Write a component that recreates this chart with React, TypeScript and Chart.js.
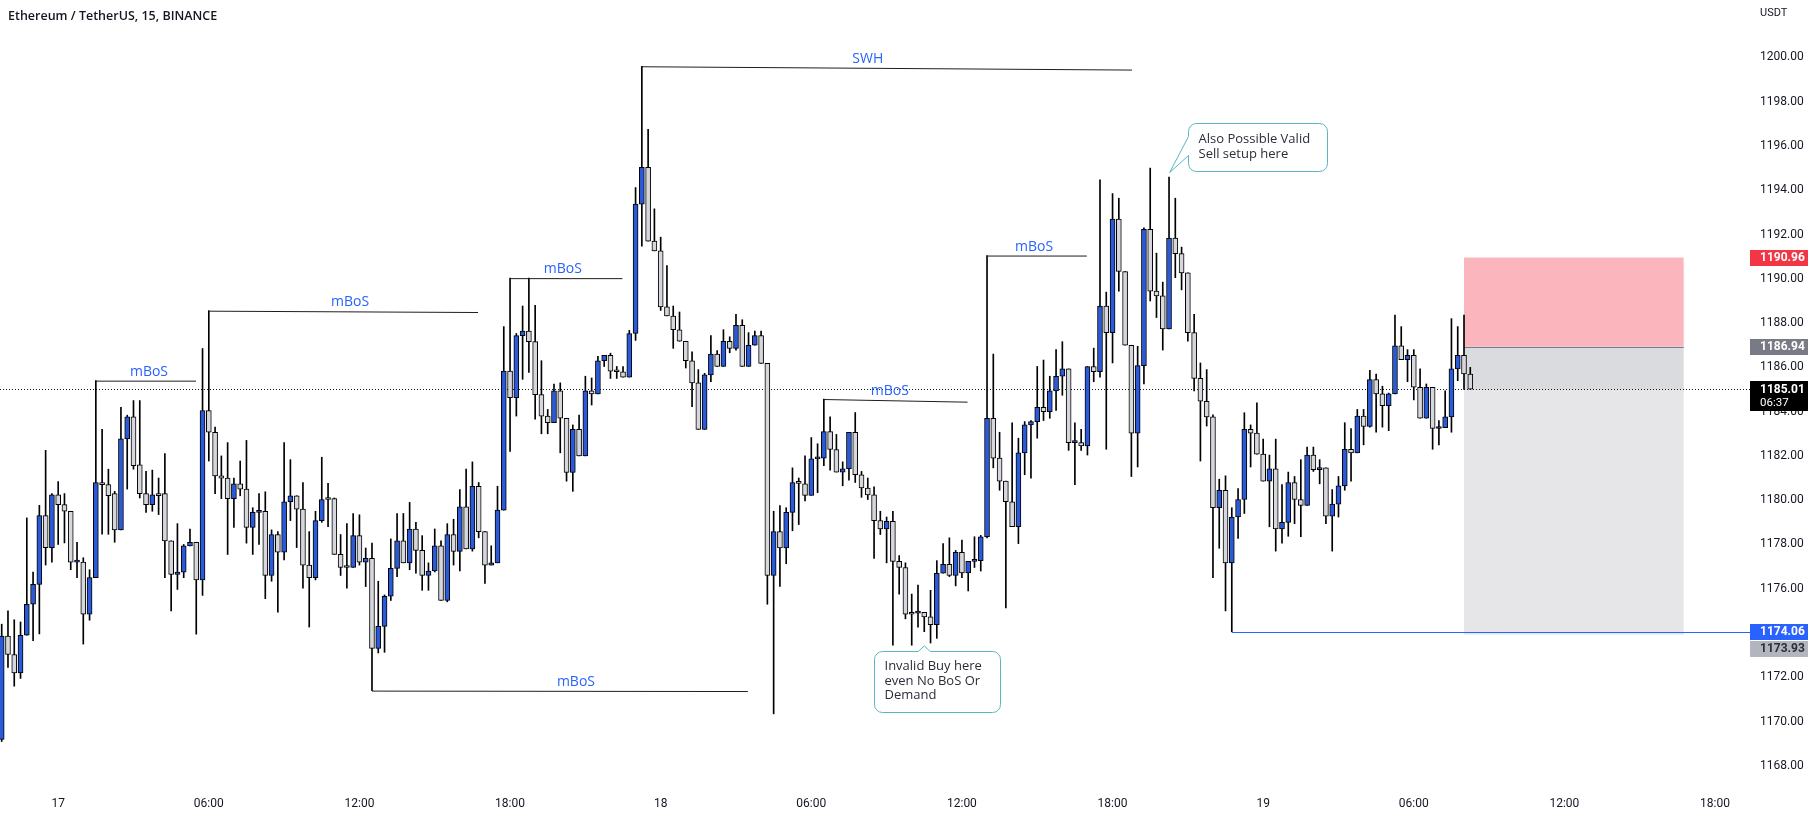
import React, { useEffect, useRef } from 'react';
import { Chart, registerables } from 'chart.js';

Chart.register(...registerables);

// ---- candle data (15 min ETH/USDT, index 0 = 16th 21:45) ----
const OPEN = [
  1169.2, 1173.86, 1173.03, 1172.2, 1173.9, 1175.3, 1176.2, 1179.3, 1177.86, 1180.24,
  1179.8, 1179.5, 1177.2, 1177.2, 1174.85, 1176.5, 1180.8, 1180.7, 1180.3, 1178.66,
  1182.77, 1183.76, 1181.6, 1180.3, 1179.8, 1180.3, 1180.3, 1178.16, 1176.65, 1176.75,
  1177.94, 1178.1, 1176.4, 1184.05, 1183.07, 1181.1, 1181.0, 1180.07, 1180.74, 1180.5,
  1178.77, 1179.45, 1179.5, 1176.6, 1178.45, 1177.65, 1179.93, 1180.2, 1179.6, 1177.07,
  1176.5, 1179.08, 1180.07, 1180.07, 1177.55, 1177.0, 1176.96, 1178.4, 1177.2, 1177.37,
  1173.3, 1174.3, 1175.66, 1176.92, 1178.16, 1177.17, 1178.7, 1177.73, 1176.6, 1176.8,
  1177.94, 1175.47, 1178.45, 1177.69, 1179.7, 1177.8, 1180.63, 1178.58, 1177.07, 1177.17,
  1179.55, 1185.83, 1184.63, 1187.43, 1187.64, 1187.16, 1184.77, 1183.8, 1183.5, 1184.94,
  1183.7, 1181.25, 1183.2, 1182.0, 1184.94, 1184.8, 1186.3, 1186.54, 1185.83, 1185.8,
  1185.56, 1187.53, 1193.37, 1195.03, 1191.7, 1191.26, 1188.73, 1188.32, 1187.7, 1187.18,
  1186.3, 1185.3, 1183.2, 1185.66, 1186.6, 1186.04, 1187.18, 1186.86, 1187.9, 1186.04,
  1187.0, 1187.43, 1186.18, 1176.6, 1178.58, 1177.84, 1179.45, 1180.8, 1180.74, 1180.22,
  1181.87, 1181.9, 1183.1, 1182.29, 1181.27, 1181.42, 1183.07, 1181.15, 1180.55, 1180.24,
  1179.08, 1178.7, 1179.04, 1177.24, 1176.96, 1174.94, 1174.9, 1174.93, 1174.73, 1174.38,
  1176.7, 1177.1, 1176.6, 1177.65, 1176.72, 1177.24, 1177.27, 1178.35, 1183.7, 1181.9,
  1180.86, 1179.93, 1178.8, 1182.14, 1183.4, 1183.55, 1184.2, 1184.0, 1184.94, 1185.6,
  1185.93, 1182.6, 1182.6, 1182.45, 1186.04, 1185.8, 1188.77, 1187.57, 1192.7, 1190.33,
  1187.0, 1183.03, 1186.08, 1192.24, 1189.44, 1189.23, 1187.74, 1191.84, 1191.14, 1190.27,
  1187.57, 1185.5, 1184.47, 1183.76, 1179.66, 1180.45, 1177.17, 1179.24, 1180.03, 1183.2,
  1183.03, 1182.08, 1180.86, 1181.42, 1178.7, 1179.0, 1180.8, 1180.03, 1179.76, 1182.04,
  1181.38, 1181.46, 1179.28, 1179.82, 1180.65, 1182.3, 1182.14, 1183.8, 1183.33, 1185.45,
  1184.8, 1184.27, 1184.8, 1186.97, 1186.35, 1186.54, 1185.1, 1183.7, 1185.1, 1183.24,
  1183.28, 1183.76, 1185.93, 1186.54, 1185.7,
];
const HIGH = [
  1174.4, 1175.0, 1174.6, 1174.5, 1179.2, 1176.75, 1179.77, 1182.25, 1180.3, 1180.84,
  1180.3, 1179.5, 1178.1, 1177.4, 1176.86, 1185.4, 1183.2, 1181.4, 1180.4, 1184.2,
  1183.84, 1184.5, 1184.5, 1181.3, 1181.36, 1181.0, 1182.1, 1178.16, 1178.94, 1178.0,
  1178.7, 1178.1, 1186.85, 1188.56, 1183.3, 1182.0, 1182.6, 1181.0, 1181.77, 1182.7,
  1179.66, 1180.3, 1180.38, 1178.66, 1178.58, 1182.6, 1181.83, 1180.2, 1180.8, 1178.58,
  1179.5, 1181.94, 1180.76, 1180.1, 1178.45, 1178.94, 1179.4, 1179.34, 1177.84, 1178.06,
  1176.34, 1175.72, 1178.25, 1179.4, 1179.4, 1179.9, 1179.0, 1178.4, 1177.17, 1178.7,
  1178.16, 1178.94, 1179.14, 1180.48, 1181.4, 1181.73, 1180.8, 1178.58, 1177.94, 1180.63,
  1187.84, 1190.03, 1187.53, 1188.77, 1190.03, 1188.8, 1186.3, 1184.1, 1185.25, 1185.3,
  1183.7, 1183.4, 1183.84, 1185.6, 1185.52, 1186.5, 1186.54, 1186.64, 1186.04, 1186.04,
  1187.67, 1194.12, 1199.6, 1196.75, 1193.16, 1191.88, 1190.6, 1188.77, 1188.5, 1187.18,
  1186.7, 1185.9, 1185.73, 1187.43, 1186.76, 1187.7, 1187.38, 1188.4, 1188.15, 1187.57,
  1187.64, 1187.64, 1186.18, 1179.5, 1179.76, 1179.66, 1181.46, 1181.0, 1182.0, 1182.83,
  1182.55, 1184.57, 1183.76, 1182.97, 1181.73, 1183.07, 1183.96, 1181.3, 1181.0, 1180.6,
  1179.5, 1179.24, 1179.5, 1177.5, 1177.17, 1175.76, 1176.17, 1174.93, 1175.93, 1177.27,
  1178.04, 1178.3, 1177.73, 1178.2, 1177.24, 1178.35, 1178.41, 1191.05, 1186.6, 1183.07,
  1180.86, 1183.5, 1182.8, 1183.55, 1183.6, 1186.04, 1186.33, 1185.6, 1186.8, 1187.16,
  1185.93, 1183.5, 1183.2, 1186.04, 1186.87, 1194.47, 1189.4, 1193.85, 1193.64, 1190.33,
  1187.0, 1186.95, 1192.3, 1195.0, 1191.16, 1189.85, 1194.6, 1193.64, 1191.43, 1190.27,
  1188.4, 1186.2, 1185.9, 1183.86, 1180.95, 1181.1, 1179.66, 1180.53, 1183.95, 1183.4,
  1184.4, 1182.76, 1182.04, 1182.76, 1180.7, 1181.27, 1181.07, 1181.83, 1182.4, 1182.4,
  1181.83, 1181.46, 1180.48, 1181.07, 1183.5, 1183.24, 1184.1, 1184.1, 1185.87, 1185.7,
  1185.15, 1184.84, 1188.36, 1187.84, 1186.8, 1186.8, 1185.93, 1185.25, 1185.1, 1183.6,
  1184.94, 1188.2, 1187.84, 1188.36, 1186.0,
];
const LOW = [
  1169.1, 1172.45, 1171.6, 1171.95, 1173.9, 1173.65, 1173.96, 1177.07, 1177.2, 1178.0,
  1178.07, 1176.86, 1176.5, 1173.5, 1174.58, 1176.5, 1178.46, 1178.46, 1178.1, 1178.66,
  1180.5, 1181.4, 1180.1, 1179.45, 1179.5, 1179.35, 1176.5, 1175.0, 1175.97, 1176.5,
  1177.94, 1173.95, 1175.7, 1181.77, 1180.3, 1180.07, 1177.55, 1178.77, 1180.2, 1178.06,
  1177.55, 1178.0, 1175.55, 1176.34, 1174.94, 1177.3, 1179.08, 1177.86, 1176.03, 1174.27,
  1176.4, 1179.0, 1178.8, 1177.55, 1176.6, 1176.03, 1176.96, 1177.07, 1176.1, 1171.4,
  1173.1, 1173.13, 1175.47, 1176.55, 1177.17, 1176.86, 1176.7, 1175.93, 1175.93, 1176.76,
  1175.47, 1175.41, 1177.07, 1176.8, 1177.8, 1177.7, 1178.3, 1176.24, 1177.07, 1177.17,
  1179.55, 1182.2, 1183.8, 1185.46, 1185.77, 1183.66, 1183.0, 1183.0, 1183.5, 1182.14,
  1180.86, 1180.4, 1182.0, 1182.0, 1184.3, 1184.8, 1186.04, 1185.5, 1185.5, 1185.56,
  1185.56, 1187.22, 1191.47, 1191.7, 1191.26, 1188.57, 1188.32, 1186.86, 1187.18, 1185.97,
  1184.22, 1183.2, 1183.2, 1185.35, 1186.04, 1186.04, 1186.66, 1186.78, 1186.04, 1186.04,
  1187.0, 1186.18, 1175.3, 1170.35, 1176.1, 1177.13, 1178.62, 1178.9, 1179.97, 1180.22,
  1180.34, 1181.56, 1181.36, 1181.27, 1180.65, 1180.9, 1180.8, 1180.13, 1180.03, 1177.37,
  1178.45, 1177.17, 1173.45, 1175.76, 1174.64, 1173.45, 1174.27, 1174.06, 1173.55, 1173.76,
  1176.7, 1176.55, 1176.13, 1176.5, 1175.9, 1176.96, 1176.8, 1178.3, 1181.46, 1180.45,
  1175.14, 1178.8, 1178.04, 1181.15, 1181.0, 1182.8, 1183.6, 1183.7, 1184.05, 1184.74,
  1182.25, 1180.7, 1182.25, 1182.04, 1185.35, 1185.56, 1182.3, 1186.2, 1189.44, 1187.0,
  1181.07, 1181.5, 1185.25, 1189.0, 1188.25, 1186.78, 1187.74, 1190.05, 1189.5, 1187.18,
  1184.94, 1181.77, 1183.35, 1176.5, 1177.83, 1175.0, 1174.06, 1178.27, 1179.4, 1181.5,
  1182.08, 1180.86, 1178.8, 1177.7, 1178.06, 1178.37, 1178.94, 1178.35, 1179.76, 1181.3,
  1180.74, 1178.94, 1177.7, 1179.24, 1180.45, 1180.86, 1182.14, 1182.5, 1183.3, 1183.07,
  1183.3, 1183.14, 1184.8, 1186.35, 1185.35, 1184.53, 1183.7, 1183.7, 1182.3, 1182.5,
  1183.28, 1183.07, 1185.4, 1185.0, 1185.01,
];
const CLOSE = [
  1173.86, 1173.03, 1172.2, 1173.9, 1175.3, 1176.2, 1179.3, 1177.86, 1180.24, 1179.8,
  1179.5, 1177.2, 1177.2, 1174.85, 1176.5, 1180.8, 1180.7, 1180.2, 1178.66, 1182.77,
  1183.76, 1181.56, 1180.3, 1179.8, 1180.24, 1180.2, 1178.16, 1176.65, 1176.75, 1177.94,
  1178.1, 1176.4, 1184.05, 1183.07, 1181.1, 1181.0, 1180.07, 1180.74, 1180.5, 1178.77,
  1179.45, 1179.5, 1176.6, 1178.45, 1177.65, 1179.93, 1180.2, 1179.6, 1177.07, 1176.5,
  1179.08, 1180.03, 1180.03, 1177.55, 1176.96, 1176.96, 1178.4, 1177.2, 1177.37, 1173.3,
  1174.3, 1175.66, 1176.92, 1178.16, 1177.17, 1178.7, 1177.73, 1176.6, 1176.8, 1177.94,
  1175.47, 1178.45, 1177.69, 1179.7, 1177.8, 1180.63, 1178.58, 1177.07, 1177.17, 1179.55,
  1185.83, 1184.63, 1187.43, 1187.64, 1187.16, 1184.77, 1183.8, 1183.5, 1184.94, 1183.7,
  1181.25, 1183.2, 1182.0, 1184.94, 1184.8, 1186.3, 1186.54, 1185.83, 1185.8, 1185.56,
  1187.53, 1193.37, 1195.03, 1191.7, 1191.26, 1188.73, 1188.32, 1187.7, 1187.18, 1186.3,
  1185.3, 1183.2, 1185.66, 1186.6, 1186.04, 1187.18, 1186.86, 1187.9, 1186.04, 1187.0,
  1187.43, 1186.18, 1176.6, 1178.58, 1177.84, 1179.45, 1180.8, 1180.76, 1180.22, 1181.87,
  1181.9, 1183.1, 1182.29, 1181.27, 1181.42, 1183.07, 1181.15, 1180.55, 1180.24, 1179.08,
  1178.7, 1179.04, 1177.24, 1176.96, 1174.85, 1174.85, 1174.93, 1174.73, 1174.38, 1176.7,
  1177.1, 1176.6, 1177.65, 1176.72, 1177.24, 1177.27, 1178.35, 1183.7, 1181.9, 1180.86,
  1179.93, 1178.8, 1182.14, 1183.4, 1183.55, 1184.2, 1184.0, 1184.94, 1185.6, 1185.93,
  1182.6, 1182.6, 1182.45, 1186.04, 1185.8, 1188.77, 1187.57, 1192.7, 1190.33, 1187.0,
  1183.03, 1186.08, 1192.24, 1189.44, 1189.23, 1187.74, 1191.84, 1191.14, 1190.27, 1187.57,
  1185.5, 1184.47, 1183.76, 1179.66, 1180.45, 1177.17, 1179.24, 1180.03, 1183.2, 1183.03,
  1182.08, 1180.86, 1181.42, 1178.7, 1179.0, 1180.8, 1180.03, 1179.76, 1182.04, 1181.38,
  1181.46, 1179.28, 1179.82, 1180.65, 1182.3, 1182.14, 1183.8, 1183.33, 1185.45, 1184.8,
  1184.27, 1184.8, 1186.97, 1186.35, 1186.54, 1185.1, 1183.7, 1185.1, 1183.24, 1183.28,
  1183.76, 1185.93, 1186.54, 1185.7, 1185.01,
];

// ---- axes ----
const TIME_TICKS = [9, 33, 57, 81, 105, 129, 153, 177, 201, 225, 249, 273];
const TIME_LABELS = ['17', '06:00', '12:00', '18:00', '18', '06:00', '12:00', '18:00', '19', '06:00', '12:00', '18:00'];
const PRICE_TICKS = [1168, 1170, 1172, 1174, 1176, 1178, 1180, 1182, 1184, 1186, 1188, 1190, 1192, 1194, 1196, 1198, 1200];
const X_MIN = -0.271;
const X_MAX = 278.57;
const Y_MIN = 1167.136;
const Y_MAX = 1202.593;

// ---- drawn levels ----
const LEVEL_NAMES = ['mBoS', 'mBoS', 'mBoS', 'mBoS', 'SWH', 'mBoS', 'mBoS'];
const LEVEL_START = [15, 33, 81, 59, 102, 131, 157];
const LEVEL_END = [30.96, 75.9, 98.9, 118.9, 180.1, 153.9, 172.9];
const LEVEL_PRICE_START = [1185.4, 1188.56, 1190.03, 1171.4, 1199.6, 1184.57, 1191.05];
const LEVEL_PRICE_END = [1185.4, 1188.5, 1190.03, 1171.38, 1199.45, 1184.45, 1191.05];
const LEVEL_TEXT_AT = [23.47, 55.5, 89.4, 91.5, 138.0, 141.5, 164.5];

const LOW_LINE_START = 196;
const LOW_LINE_PRICE = 1174.06;
const LAST_PRICE = 1185.01;
const LAST_TIMER = '06:37';

// ---- short position tool ----
const POS_FROM = 233;
const POS_TO = 268;
const POS_STOP = 1190.96;
const POS_ENTRY = 1186.94;
const POS_TARGET = 1173.93;

// ---- callouts ----
const NOTE_A_TEXT = ['Invalid Buy here', 'even No BoS Or', 'Demand'];
const NOTE_A_BOX = [139.0, 1173.19, 159.1, 1170.43]; // x0, p0, x1, p1
const NOTE_A_TIP = [147.0, 1173.42];
const NOTE_B_TEXT = ['Also Possible Valid', 'Sell setup here'];
const NOTE_B_BOX = [189.0, 1197.04, 211.2, 1194.87];
const NOTE_B_TIP = [186.1, 1194.8];

const BULL = '#2b5ad8';
const BEAR = '#d5d7dc';
const TEXT = '#131722';
const FONT = '"Open Sans", Roboto, sans-serif';

function calloutA(ctx: CanvasRenderingContext2D, x0: number, y0: number, x1: number, y1: number, tx: number, ty: number) {
  const r = 8;
  ctx.beginPath();
  ctx.moveTo(x0 + r, y0);
  ctx.lineTo(tx - 6, y0);
  ctx.lineTo(tx, ty);
  ctx.lineTo(tx + 6, y0);
  ctx.lineTo(x1 - r, y0);
  ctx.arcTo(x1, y0, x1, y0 + r, r);
  ctx.lineTo(x1, y1 - r);
  ctx.arcTo(x1, y1, x1 - r, y1, r);
  ctx.lineTo(x0 + r, y1);
  ctx.arcTo(x0, y1, x0, y1 - r, r);
  ctx.lineTo(x0, y0 + r);
  ctx.arcTo(x0, y0, x0 + r, y0, r);
  ctx.closePath();
}

function calloutB(ctx: CanvasRenderingContext2D, x0: number, y0: number, x1: number, y1: number, tx: number, ty: number) {
  const r = 8;
  ctx.beginPath();
  ctx.moveTo(x0 + r, y0);
  ctx.lineTo(x1 - r, y0);
  ctx.arcTo(x1, y0, x1, y0 + r, r);
  ctx.lineTo(x1, y1 - r);
  ctx.arcTo(x1, y1, x1 - r, y1, r);
  ctx.lineTo(x0 + r, y1);
  ctx.arcTo(x0, y1, x0, y1 - r, r);
  ctx.lineTo(x0, y0 + 32);
  ctx.lineTo(tx, ty);
  ctx.lineTo(x0, y0 + 13);
  ctx.lineTo(x0, y0 + r);
  ctx.arcTo(x0, y0, x0 + r, y0, r);
  ctx.closePath();
}

const overlayPlugin = {
  id: 'overlay',
  beforeDatasetsDraw(chart: any) {
    const { ctx, chartArea, scales } = chart;
    const xs = scales.x;
    const ys = scales.y;
    ctx.save();
    const bx0 = xs.getPixelForValue(POS_FROM);
    const bx1 = xs.getPixelForValue(POS_TO);
    const yStop = ys.getPixelForValue(POS_STOP);
    const yEntry = ys.getPixelForValue(POS_ENTRY);
    const yTarget = ys.getPixelForValue(POS_TARGET);
    const yLast = ys.getPixelForValue(LAST_PRICE);
    ctx.fillStyle = 'rgba(242,54,69,0.36)';
    ctx.fillRect(bx0, yStop, bx1 - bx0, yEntry - yStop);
    ctx.fillStyle = 'rgba(120,123,134,0.19)';
    ctx.fillRect(bx0, yEntry, bx1 - bx0, yTarget - yEntry);
    ctx.fillStyle = 'rgba(120,123,134,0.1)';
    ctx.fillRect(bx0, yEntry, bx1 - bx0, yLast - yEntry);
    ctx.strokeStyle = '#787b86';
    ctx.lineWidth = 1;
    ctx.beginPath();
    ctx.moveTo(bx0, Math.round(yEntry) + 0.5);
    ctx.lineTo(bx1, Math.round(yEntry) + 0.5);
    ctx.stroke();

    // last price dotted line
    ctx.strokeStyle = '#131722';
    ctx.setLineDash([1, 2]);
    ctx.beginPath();
    ctx.moveTo(chartArea.left, Math.round(yLast) + 0.5);
    ctx.lineTo(chartArea.right, Math.round(yLast) + 0.5);
    ctx.stroke();
    ctx.setLineDash([]);
    ctx.restore();
  },
  afterDatasetsDraw(chart: any) {
    const { ctx, chartArea, scales } = chart;
    const xs = scales.x;
    const ys = scales.y;
    ctx.save();
    // levels
    for (let i = 0; i < LEVEL_NAMES.length; i++) {
      const x0 = xs.getPixelForValue(LEVEL_START[i]);
      const x1 = xs.getPixelForValue(LEVEL_END[i]);
      const y0 = ys.getPixelForValue(LEVEL_PRICE_START[i]);
      const y1 = ys.getPixelForValue(LEVEL_PRICE_END[i]);
      ctx.strokeStyle = '#1e1e1e';
      ctx.lineWidth = 1;
      ctx.beginPath();
      ctx.moveTo(x0, y0 + 0.5);
      ctx.lineTo(x1, y1 + 0.5);
      ctx.stroke();
      const tx = xs.getPixelForValue(LEVEL_TEXT_AT[i]);
      const t = (tx - x0) / (x1 - x0);
      const ty = y0 + (y1 - y0) * t;
      ctx.fillStyle = '#2962ff';
      ctx.font = `14px ${FONT}`;
      ctx.textAlign = 'center';
      ctx.textBaseline = 'middle';
      ctx.fillText(LEVEL_NAMES[i], tx, ty - 9);
    }
    // low line
    const ly = Math.round(ys.getPixelForValue(LOW_LINE_PRICE)) + 0.5;
    ctx.strokeStyle = '#2962ff';
    ctx.beginPath();
    ctx.moveTo(xs.getPixelForValue(LOW_LINE_START), ly);
    ctx.lineTo(chartArea.right, ly);
    ctx.stroke();

    // callout A
    ctx.lineWidth = 1;
    ctx.strokeStyle = '#5bb5bf';
    ctx.fillStyle = '#ffffff';
    {
      const x0 = Math.round(xs.getPixelForValue(NOTE_A_BOX[0])) + 0.5;
      const y0 = Math.round(ys.getPixelForValue(NOTE_A_BOX[1])) + 0.5;
      const x1 = Math.round(xs.getPixelForValue(NOTE_A_BOX[2])) + 0.5;
      const y1 = Math.round(ys.getPixelForValue(NOTE_A_BOX[3])) + 0.5;
      const tx = xs.getPixelForValue(NOTE_A_TIP[0]);
      const ty = ys.getPixelForValue(NOTE_A_TIP[1]);
      calloutA(ctx, x0, y0, x1, y1, tx, ty);
      ctx.fill();
      ctx.stroke();
      ctx.fillStyle = '#2a2e39';
      ctx.font = `13px ${FONT}`;
      ctx.textAlign = 'left';
      ctx.textBaseline = 'middle';
      NOTE_A_TEXT.forEach((s, k) => ctx.fillText(s, x0 + 10, y0 + 15 + k * 14.5));
    }
    // callout B
    ctx.strokeStyle = '#5bb5bf';
    ctx.fillStyle = '#ffffff';
    {
      const x0 = Math.round(xs.getPixelForValue(NOTE_B_BOX[0])) + 0.5;
      const y0 = Math.round(ys.getPixelForValue(NOTE_B_BOX[1])) + 0.5;
      const x1 = Math.round(xs.getPixelForValue(NOTE_B_BOX[2])) + 0.5;
      const y1 = Math.round(ys.getPixelForValue(NOTE_B_BOX[3])) + 0.5;
      const tx = xs.getPixelForValue(NOTE_B_TIP[0]);
      const ty = ys.getPixelForValue(NOTE_B_TIP[1]);
      calloutB(ctx, x0, y0, x1, y1, tx, ty);
      ctx.fill();
      ctx.stroke();
      ctx.fillStyle = '#2a2e39';
      ctx.font = `13px ${FONT}`;
      ctx.textAlign = 'left';
      ctx.textBaseline = 'middle';
      NOTE_B_TEXT.forEach((s, k) => ctx.fillText(s, x0 + 10, y0 + 16 + k * 14.5));
    }
    ctx.restore();
  },
  afterDraw(chart: any) {
    const { ctx, chartArea, scales } = chart;
    const ys = scales.y;
    ctx.save();
    // title
    ctx.fillStyle = TEXT;
    ctx.font = `600 12.5px ${FONT}`;
    ctx.textAlign = 'left';
    ctx.textBaseline = 'middle';
    ctx.fillText('Ethereum / TetherUS, 15, BINANCE', 8, 16);
    // currency
    ctx.font = `11px Roboto, sans-serif`;
    ctx.fillText('USDT', chartArea.right + 10, 13);

    const tagX = chartArea.right;
    const tagW = 58;
    const tagH = 16;
    const drawTag = (cy: number, bg: string, fg: string, text: string) => {
      ctx.fillStyle = bg;
      ctx.fillRect(tagX, Math.round(cy - tagH / 2), tagW, tagH);
      ctx.fillStyle = fg;
      ctx.font = `bold 12px Roboto, sans-serif`;
      ctx.textBaseline = 'middle';
      ctx.fillText(text, tagX + 10, cy + 0.5);
    };
    drawTag(ys.getPixelForValue(POS_STOP), '#f23645', '#ffffff', POS_STOP.toFixed(2));
    drawTag(ys.getPixelForValue(POS_ENTRY), '#787b86', '#ffffff', POS_ENTRY.toFixed(2));
    const yLow = ys.getPixelForValue(LOW_LINE_PRICE);
    drawTag(yLow, '#2962ff', '#ffffff', LOW_LINE_PRICE.toFixed(2));
    drawTag(Math.max(ys.getPixelForValue(POS_TARGET), yLow + tagH + 1), '#b2b5be', '#2a2e39', POS_TARGET.toFixed(2));
    // last price with countdown
    const yl = ys.getPixelForValue(LAST_PRICE);
    ctx.fillStyle = '#000000';
    ctx.fillRect(tagX, Math.round(yl - 8), tagW, 30);
    ctx.fillStyle = '#ffffff';
    ctx.font = `bold 12px Roboto, sans-serif`;
    ctx.fillText(LAST_PRICE.toFixed(2), tagX + 10, yl + 0.5);
    ctx.font = `11.5px Roboto, sans-serif`;
    ctx.fillText(LAST_TIMER, tagX + 10, yl + 14);
    ctx.restore();
  },
};

export default function App() {
  const canvasRef = useRef<HTMLCanvasElement | null>(null);

  useEffect(() => {
    document.body.style.margin = '0';
    const canvas = canvasRef.current;
    if (!canvas) return;
    const idx = OPEN.map((_, i) => i);
    const bodyColors = idx.map((i) => (CLOSE[i] >= OPEN[i] ? BULL : BEAR));
    const chart = new Chart(canvas, {
      type: 'bar',
      data: {
        datasets: [
          {
            label: 'wick',
            data: idx.map((i) => ({ x: i, y: [LOW[i], HIGH[i]] })) as any,
            backgroundColor: '#000000',
            borderWidth: 0,
            barThickness: 1,
            grouped: false,
            order: 2,
          } as any,
          {
            label: 'body',
            data: idx.map((i) => ({ x: i, y: [Math.min(OPEN[i], CLOSE[i]), Math.max(OPEN[i], CLOSE[i])] })) as any,
            backgroundColor: bodyColors,
            borderColor: '#000000',
            borderWidth: 1,
            borderSkipped: false,
            barThickness: 5,
            minBarLength: 2,
            grouped: false,
            order: 1,
          } as any,
        ],
      },
      options: {
        animation: false,
        responsive: false,
        maintainAspectRatio: false,
        layout: { padding: 0 },
        plugins: { legend: { display: false }, tooltip: { enabled: false } },
        scales: {
          x: {
            type: 'linear',
            min: X_MIN,
            max: X_MAX,
            offset: false,
            grid: { display: false, drawTicks: false },
            border: { display: false },
            afterBuildTicks: (s: any) => {
              s.ticks = TIME_TICKS.map((v) => ({ value: v }));
            },
            afterFit: (s: any) => {
              s.height = 33;
              s.paddingLeft = 0;
              s.paddingRight = 0;
            },
            ticks: {
              autoSkip: false,
              maxRotation: 0,
              padding: 12,
              color: TEXT,
              font: { size: 12, family: 'Roboto, sans-serif' },
              callback: (v: any) => TIME_LABELS[TIME_TICKS.indexOf(Number(v))] ?? '',
            },
          },
          y: {
            type: 'linear',
            position: 'right',
            min: Y_MIN,
            max: Y_MAX,
            grid: { display: false, drawTicks: false },
            border: { display: false },
            afterBuildTicks: (s: any) => {
              s.ticks = PRICE_TICKS.map((v) => ({ value: v }));
            },
            afterFit: (s: any) => {
              s.width = 64;
              s.paddingTop = 0;
              s.paddingBottom = 0;
            },
            ticks: {
              padding: 10,
              color: TEXT,
              font: { size: 12, family: 'Roboto, sans-serif' },
              callback: (v: any) => Number(v).toFixed(2),
            },
          },
        },
      } as any,
      plugins: [overlayPlugin],
    });
    return () => chart.destroy();
  }, []);

  return (
    <div style={{ width: 1814, height: 818, position: 'relative', background: '#ffffff' }}>
      <canvas ref={canvasRef} width={1814} height={818} style={{ display: 'block', width: 1814, height: 818 }} />
    </div>
  );
}
